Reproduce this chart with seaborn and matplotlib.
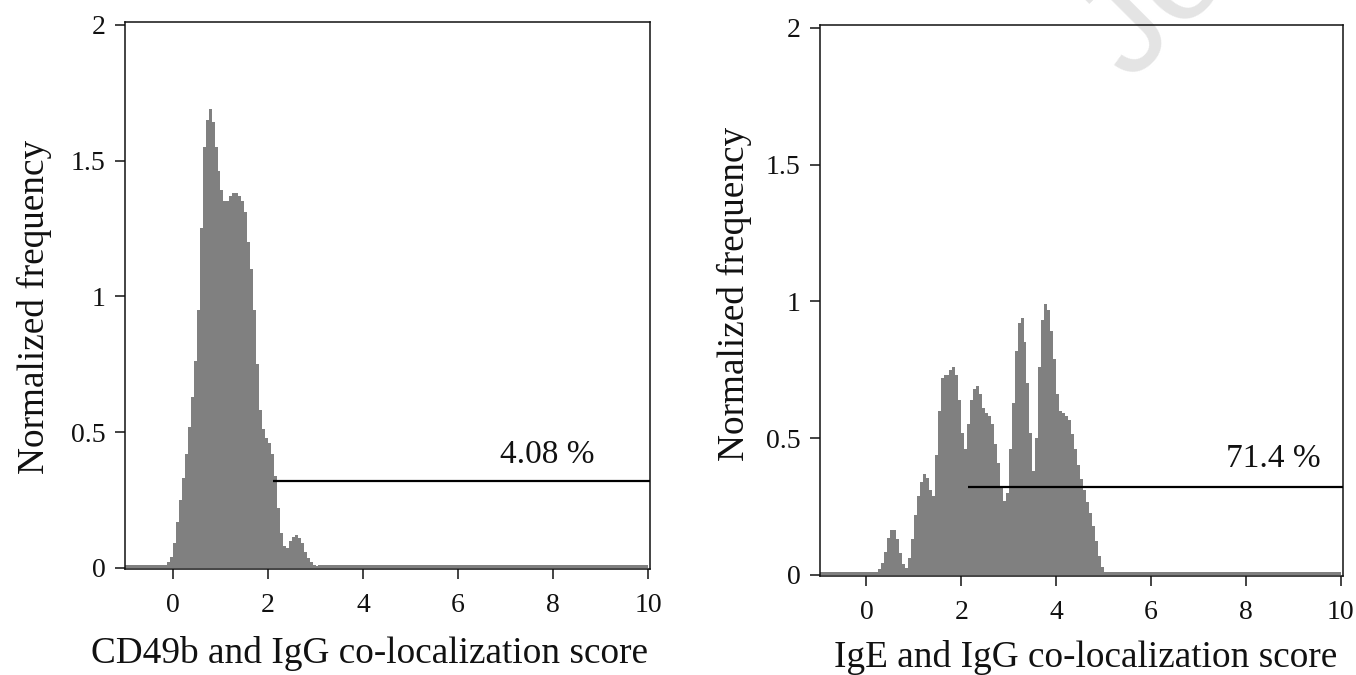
import numpy as np
import pandas as pd
import matplotlib
matplotlib.use("Agg")
import matplotlib.pyplot as plt
import seaborn as sns

# ---------------- data ----------------
bin_width = 0.0625
range_lo, range_hi = -1.0, 10.0
baseline_level = 0.01          # thin grey floor visible across the whole range

# CD49b / IgG panel: first bin starts at -0.1875
cd49b_start = -0.1875
cd49b_freq = [0.012, 0.02, 0.04, 0.09, 0.17, 0.25, 0.33, 0.42, 0.52, 0.63,
              0.76, 0.95, 1.25, 1.55, 1.65, 1.69, 1.64, 1.55, 1.46, 1.39,
              1.35, 1.35, 1.37, 1.38, 1.38, 1.37, 1.35, 1.31, 1.20, 1.10,
              0.95, 0.75, 0.58, 0.51, 0.48, 0.46, 0.42, 0.34, 0.22, 0.13,
              0.08, 0.075, 0.10, 0.115, 0.12, 0.11, 0.09, 0.06, 0.035, 0.02,
              0.01, 0.008]

# IgE / IgG panel: first bin starts at 0.1875
ige_start = 0.1875
ige_freq = [0.01, 0.02, 0.045, 0.085, 0.135, 0.165, 0.165, 0.13, 0.08, 0.04,
            0.025, 0.06, 0.13, 0.22, 0.29, 0.34, 0.37, 0.355, 0.31, 0.29,
            0.44, 0.60, 0.72, 0.73, 0.73, 0.75, 0.76, 0.73, 0.64, 0.52,
            0.46, 0.55, 0.64, 0.68, 0.69, 0.66, 0.61, 0.59, 0.58, 0.55,
            0.48, 0.41, 0.32, 0.27, 0.30, 0.46, 0.63, 0.82, 0.92, 0.94,
            0.85, 0.70, 0.52, 0.38, 0.50, 0.76, 0.93, 0.99, 0.97, 0.89,
            0.79, 0.66, 0.60, 0.59, 0.58, 0.565, 0.515, 0.46, 0.40, 0.35,
            0.31, 0.265, 0.225, 0.18, 0.125, 0.07, 0.03, 0.01]

gate_start = [2.10, 2.14]
gate_level = [0.32, 0.32]
gate_pct = ["4.08 %", "71.4 %"]
pct_pos = [(7.87, 0.387), (8.59, 0.395)]

xlabels = ["CD49b and IgG co-localization score", "IgE and IgG co-localization score"]
ylabel = "Normalized frequency"
xticks = [0, 2, 4, 6, 8, 10]
yticks = [0, 0.5, 1, 1.5, 2]
yticklabels = ["0", "0.5", "1", "1.5", "2"]


def full_histogram(start, freq):
    n = int(round((range_hi - range_lo) / bin_width))
    centers = range_lo + bin_width * (np.arange(n) + 0.5)
    w = np.full(n, baseline_level)
    k0 = int(round((start - range_lo) / bin_width))
    w[k0:k0 + len(freq)] = freq
    return pd.DataFrame({"score": centers, "freq": w})


# ---------------- style ----------------
sns.set_theme(style="ticks")
plt.rcParams["font.family"] = ["Liberation Serif", "DejaVu Serif"]
plt.rcParams["axes.edgecolor"] = "#111111"
plt.rcParams["axes.linewidth"] = 1.1

fig = plt.figure(figsize=(13.56, 6.75), dpi=100)
W, H = 1356, 675
ax1 = fig.add_axes([125 / W, 1 - 569 / H, 525 / W, 547 / H])
ax2 = fig.add_axes([820 / W, 1 - 576 / H, 523 / W, 551 / H])

panels = [
    (ax1, cd49b_start, cd49b_freq, (-1.01, 10.04), (-0.004, 2.01), (-0.139, 0.48), (0.466, -0.123)),
    (ax2, ige_start, ige_freq, (-0.98, 10.05), (-0.004, 2.01), (-0.130, 0.512), (0.508, -0.117)),
]

grey = "#808080"
for i, (ax, start, freq, xl, yl, ylab_pos, xlab_pos) in enumerate(panels):
    df = full_histogram(start, freq)
    sns.histplot(data=df, x="score", weights="freq", binwidth=bin_width,
                 binrange=(range_lo, range_hi), element="step", fill=True,
                 color=grey, alpha=1.0, linewidth=0, ax=ax)
    ax.set_xlim(*xl)
    ax.set_ylim(*yl)
    ax.hlines(gate_level[i], gate_start[i], xl[1], color="black", linewidth=1.6, zorder=5)
    ax.text(pct_pos[i][0], pct_pos[i][1], gate_pct[i], ha="center", va="baseline",
            fontsize=24, color="#111111")
    ax.set_xticks(xticks)
    ax.set_xticklabels([str(t) for t in xticks])
    ax.set_yticks(yticks)
    ax.set_yticklabels(yticklabels)
    ax.tick_params(axis="both", direction="out", length=7, width=1.1,
                   labelsize=20, colors="#111111")
    ax.tick_params(axis="x", pad=10)
    ax.tick_params(axis="y", pad=7)
    ax.set_xlabel(xlabels[i], fontsize=26.8, color="#111111")
    ax.set_ylabel(ylabel, fontsize=26.8, color="#111111")
    ax.xaxis.set_label_coords(*xlab_pos)
    ax.yaxis.set_label_coords(*ylab_pos)
    for s in ax.spines.values():
        s.set_visible(True)
    ax.set_facecolor("none")
    ax.set_zorder(1)

# faint journal watermark behind the right panel
fig.text(1130 / W, 1 - 83 / H, "Journal Pre-proof", rotation=45, rotation_mode="anchor",
         ha="left", va="baseline", fontsize=100, color="#e4e4e4",
         family=["Liberation Sans", "DejaVu Sans"], zorder=0)

fig.savefig("out.png", dpi=100)
